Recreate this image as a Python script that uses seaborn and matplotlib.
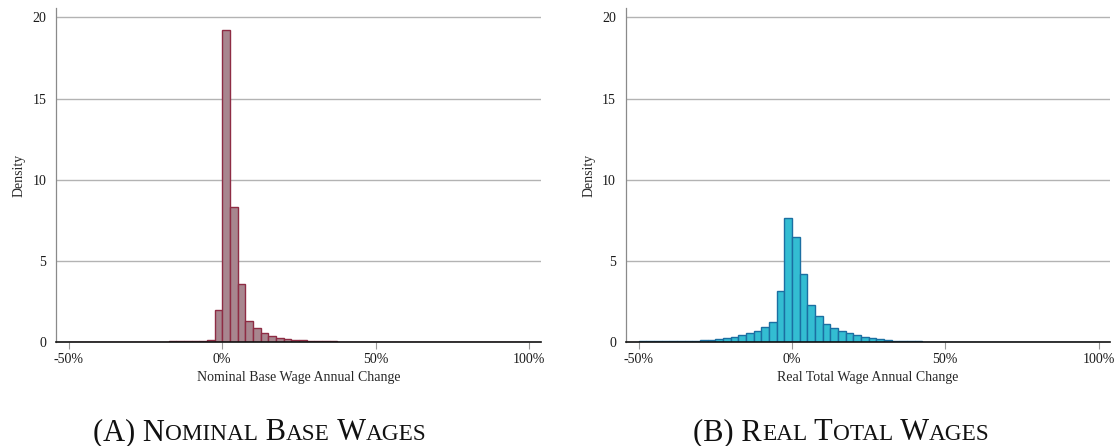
import numpy as np
import pandas as pd
import matplotlib
matplotlib.use("Agg")
import matplotlib.pyplot as plt
import seaborn as sns

# ---- data: histogram densities on 2.5-point bins from -50% to 100% ----
bin_width = 2.5
bin_edges = list(np.arange(-50, 100 + bin_width, bin_width))

nominal_density = [
    # -50 ... -2.5
    0.03, 0.02, 0.02, 0.02, 0.02, 0.02, 0.02, 0.02, 0.03, 0.03,
    0.03, 0.04, 0.04, 0.05, 0.05, 0.06, 0.07, 0.10, 0.16, 1.99,
    # 0 ... 47.5
    19.23, 8.31, 3.57, 1.34, 0.88, 0.58, 0.39, 0.27, 0.23, 0.15,
    0.14, 0.08, 0.06, 0.05, 0.05, 0.04, 0.04, 0.03, 0.03, 0.03,
    # 50 ... 97.5
    0.02, 0.02, 0.02, 0.02, 0.02, 0.02, 0.02, 0.02, 0.02, 0.02,
    0.02, 0.02, 0.02, 0.02, 0.02, 0.02, 0.02, 0.02, 0.02, 0.02,
]

real_density = [
    # -50 ... -2.5
    0.08, 0.10, 0.06, 0.06, 0.06, 0.08, 0.08, 0.10, 0.12, 0.14,
    0.20, 0.26, 0.35, 0.47, 0.60, 0.72, 0.97, 1.27, 3.14, 7.67,
    # 0 ... 47.5
    6.48, 4.22, 2.28, 1.60, 1.13, 0.88, 0.70, 0.55, 0.43, 0.31,
    0.25, 0.18, 0.14, 0.10, 0.08, 0.06, 0.05, 0.04, 0.03, 0.03,
    # 50 ... 97.5
    0.02, 0.02, 0.02, 0.02, 0.02, 0.02, 0.02, 0.02, 0.02, 0.02,
    0.02, 0.02, 0.02, 0.02, 0.02, 0.02, 0.02, 0.02, 0.02, 0.02,
]

x_ticks = [-50, 0, 50, 100]
x_tick_labels = ["-50%", "0%", "50%", "100%"]
y_ticks = [0, 5, 10, 15, 20]
x_labels = ["Nominal Base Wage Annual Change", "Real Total Wage Annual Change"]
captions = ["(A) Nominal Base Wages", "(B) Real Total Wages"]

# ---- style ----
sns.set_theme(style="white")
plt.rcParams["font.family"] = ["Liberation Serif", "DejaVu Serif"]
plt.rcParams["text.color"] = "#1a1a1a"

W, H, DPI = 1116, 446, 100
fig = plt.figure(figsize=(W / DPI, H / DPI), dpi=DPI)
fig.patch.set_facecolor("white")

axes_boxes = [
    [56 / W, (H - 342.3) / H, 484.6 / W, 334.6 / H],
    [625.7 / W, (H - 342.3) / H, 484.6 / W, 334.6 / H],
]
fills = ["#a8868f", "#33bdd2"]
edges = ["#8e2c44", "#1b6fa2"]
series = [nominal_density, real_density]

centers = [e + bin_width / 2 for e in bin_edges[:-1]]

for box, dens, fc, ec, xl in zip(axes_boxes, series, fills, edges, x_labels):
    ax = fig.add_axes(box)
    df = pd.DataFrame({"change": centers, "density": dens})
    sns.histplot(
        data=df, x="change", weights="density", bins=bin_edges,
        stat="count", color=fc, edgecolor=ec, linewidth=1.0, alpha=1.0,
        ax=ax, zorder=3,
    )
    ax.set_xlim(-54.2, 103.8)
    ax.set_ylim(0, 20.6)
    ax.set_yticks(y_ticks)
    ax.set_yticklabels([str(v) for v in y_ticks])
    ax.set_xticks(x_ticks)
    ax.set_xticklabels(x_tick_labels)
    for v in y_ticks[1:]:
        ax.axhline(v, color="#b3b3b3", lw=1.0, zorder=1)
    ax.tick_params(axis="x", which="major", direction="out", length=5,
                   width=0.8, color="#999999", labelsize=10, pad=3,
                   labelcolor="#1a1a1a", bottom=True)
    ax.tick_params(axis="y", which="major", length=0, labelsize=10, pad=7,
                   labelcolor="#1a1a1a")
    for side in ["top", "right"]:
        ax.spines[side].set_visible(False)
    ax.spines["left"].set_color("#8a8a8a")
    ax.spines["left"].set_linewidth(0.9)
    ax.spines["bottom"].set_color("#111111")
    ax.spines["bottom"].set_linewidth(1.2)
    ax.spines["bottom"].set_zorder(4)
    ax.set_xlabel(xl, fontsize=10, labelpad=3)
    ax.set_ylabel("Density", fontsize=10, labelpad=5)


def small_caps_runs(text):
    """Split text into (string, is_small) runs for a small-caps rendering."""
    runs = []
    for ch in text:
        small = ch.islower()
        piece = ch.upper()
        if runs and runs[-1][1] == small:
            runs[-1][0] += piece
        else:
            runs.append([piece, small])
    return runs


def draw_small_caps(fig, xc, y, text, size, ratio=0.76):
    runs = small_caps_runs(text)
    artists = []
    for s, small in runs:
        t = fig.text(0, y, s, fontsize=size * ratio if small else size,
                     ha="left", va="baseline", color="#111111")
        artists.append(t)
    fig.canvas.draw()
    r = fig.canvas.get_renderer()
    widths = [a.get_window_extent(renderer=r).width / W for a in artists]
    total = sum(widths)
    x = xc - total / 2
    for a, w in zip(artists, widths):
        a.set_x(x)
        x += w


cap_centers = [(93 + 427) / 2 / W, (683 + 1000) / 2 / W]
for xc, cap in zip(cap_centers, captions):
    draw_small_caps(fig, xc, (H - 440) / H, cap, 22)

fig.savefig("out.png", dpi=DPI, facecolor="white")
